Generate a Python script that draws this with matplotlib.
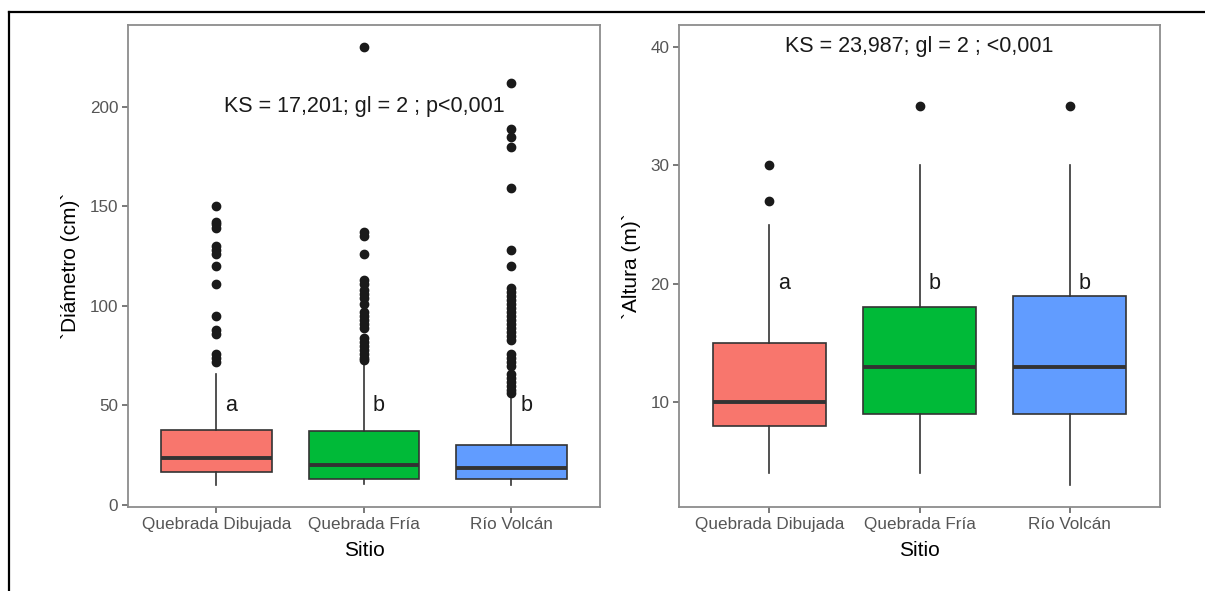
import matplotlib
matplotlib.use('Agg')
import matplotlib.pyplot as plt
from matplotlib.lines import Line2D

plt.rcParams['font.family'] = ['Liberation Sans', 'DejaVu Sans']

sites = ['Quebrada Dibujada', 'Quebrada Fría', 'Río Volcán']
colors = ['#F8766D', '#00BA38', '#619CFF']

# Diameter (cm) box stats
diam_whislo = [10, 10.5, 10]
diam_q1 = [16.7, 13.3, 13.3]
diam_med = [23.5, 20.2, 18.7]
diam_q3 = [37.6, 37.2, 30.2]
diam_whishi = [66, 71, 54]
diam_fliers = [
    [72, 74, 76, 86, 88, 95, 111, 120, 126, 128, 130, 139, 141, 142, 150],
    [73, 74, 76, 78, 80, 82, 84, 89, 91, 93, 95, 97, 101, 104, 106, 108,
     111, 113, 126, 135, 137, 230],
    [56, 58, 60, 62, 64, 66, 70, 72, 74, 76, 83, 85, 87, 89, 91, 93, 95,
     97, 99, 101, 103, 105, 107, 109, 120, 128, 159, 180, 185, 189, 212],
]
diam_letters = ['a', 'b', 'b']

# Height (m) box stats
alt_whislo = [4, 4, 3]
alt_q1 = [8, 9, 9]
alt_med = [10, 13, 13]
alt_q3 = [15, 18, 19]
alt_whishi = [25, 30, 30]
alt_fliers = [[27, 30], [35], [35]]
alt_letters = ['a', 'b', 'b']


def make_stats(lo, q1, med, q3, hi, fl):
    return [dict(whislo=lo[i], q1=q1[i], med=med[i], q3=q3[i], whishi=hi[i],
                 fliers=fl[i], label=sites[i]) for i in range(len(sites))]


def draw_panel(ax, stats, letters, letter_y, ann, ann_y, ylim, yticks, ylabel):
    bp = ax.bxp(stats, positions=[1, 2, 3], widths=0.75, patch_artist=True,
                showcaps=False,
                boxprops=dict(edgecolor='#333333', linewidth=1.2),
                whiskerprops=dict(color='#333333', linewidth=1.2),
                medianprops=dict(color='#333333', linewidth=2.8),
                flierprops=dict(marker='o', markerfacecolor='#1a1a1a',
                                markeredgecolor='#1a1a1a', markersize=6))
    for patch, c in zip(bp['boxes'], colors):
        patch.set_facecolor(c)
    for i, l in enumerate(letters):
        ax.text(i + 1.1, letter_y, l, ha='center', va='center', fontsize=15.5,
                color='#1a1a1a')
    ax.text(2, ann_y, ann, ha='center', va='center', fontsize=15.5, color='#1a1a1a')
    ax.set_xlim(0.4, 3.6)
    ax.set_ylim(*ylim)
    ax.set_yticks(yticks)
    ax.set_xticks([1, 2, 3])
    ax.set_xticklabels(sites)
    ax.set_xlabel('Sitio', fontsize=15, labelpad=6.5)
    ax.set_ylabel(ylabel, fontsize=15, labelpad=7)
    for s in ax.spines.values():
        s.set_color('#8c8c8c')
        s.set_linewidth(1.3)
    ax.tick_params(colors='#555555', labelcolor='#555555', labelsize=12.3,
                   length=4, width=1.1, pad=3)


fig = plt.figure(figsize=(12.05, 5.91), dpi=100)
ax1 = fig.add_axes([0.1062, 0.1421, 0.3917, 0.8156])
ax2 = fig.add_axes([0.5637, 0.1421, 0.3989, 0.8156])

draw_panel(ax1, make_stats(diam_whislo, diam_q1, diam_med, diam_q3, diam_whishi, diam_fliers),
           diam_letters, 50, 'KS = 17,201; gl = 2 ; p<0,001', 200,
           (-1, 241), [0, 50, 100, 150, 200], '`Diámetro (cm)`')
draw_panel(ax2, make_stats(alt_whislo, alt_q1, alt_med, alt_q3, alt_whishi, alt_fliers),
           alt_letters, 20, 'KS = 23,987; gl = 2 ; <0,001', 40,
           (1.15, 41.85), [10, 20, 30, 40], '`Altura (m)`')

# black frame lines on top and left of the figure
fig.add_artist(Line2D([9 / 1205, 1.0], [1 - 12 / 591, 1 - 12 / 591],
                      transform=fig.transFigure, color='black', linewidth=1.6))
fig.add_artist(Line2D([9 / 1205, 9 / 1205], [0, 1 - 12 / 591],
                      transform=fig.transFigure, color='black', linewidth=1.6))

fig.savefig('out.png', dpi=100, facecolor='white')
